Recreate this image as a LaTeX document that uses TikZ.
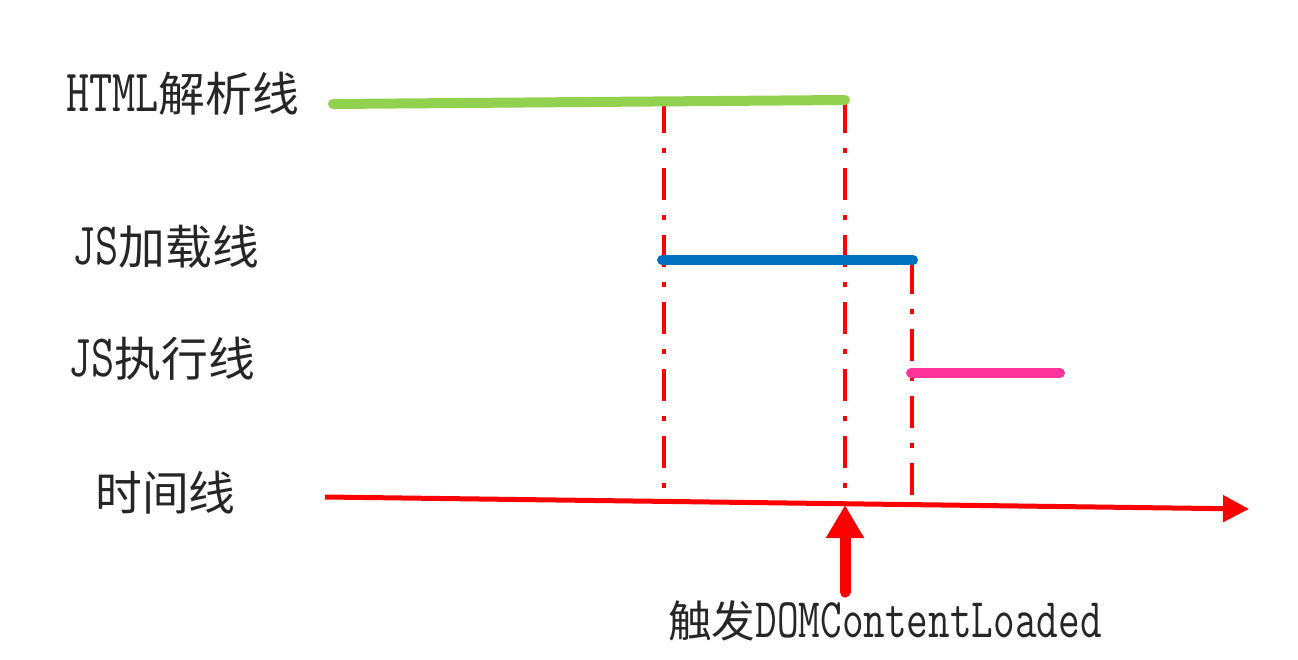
\documentclass[tikz,border=0pt]{standalone}
\usepackage{fontspec}
\newfontfamily\lmono{Latin Modern Mono}[FakeStretch=0.75]
\newfontfamily\cjk{Noto Sans CJK SC}[Scale=0.78]
\usetikzlibrary{arrows.meta}
\definecolor{htmlgreen}{HTML}{92D050}
\definecolor{jsblue}{HTML}{0070C0}
\definecolor{jspink}{HTML}{FF3399}
\definecolor{axisred}{HTML}{FF0000}
\tikzset{
  lab/.style={anchor=base west, inner sep=0pt, text=black!85, font=\fontsize{60}{66}\lmono},
  smalllab/.style={anchor=base west, inner sep=0pt, text=black!85, font=\fontsize{56}{62}\lmono},
  phase/.style={line width=10pt, line cap=round},
  guide/.style={draw=axisred, line width=3.5pt, dash pattern=on 32pt off 15pt on 5pt off 15pt},
}
\begin{document}
\begin{tikzpicture}[x=1pt,y=-1pt]
\useasboundingbox (0,0) rectangle (1298,660);
% labels
\node[lab] (lhtml) at (66,112) {HTML{\cjk 解析线}};
\node[lab] (lload) at (72,265) {JS{\cjk 加载线}};
\node[lab] (lexec) at (68,376) {JS{\cjk 执行线}};
\node[lab] (ltime) at (95,510) {{\cjk 时间线}};
\node[smalllab] (ldom) at (668,637) {{\cjk 触发}DOMContentLoaded};
% coordinates
\coordinate (g1) at (333,104);
\coordinate (g2) at (845,100);
\coordinate (b1) at (662,260);
\coordinate (b2) at (913,260);
\coordinate (p1) at (911,373);
\coordinate (p2) at (1060,373);
\coordinate (t1) at (325,497);
\coordinate (t2) at (1249,509);
\coordinate (v1t) at (664,101);
\coordinate (v1b) at (664,495);
\coordinate (v2t) at (845,101);
\coordinate (v2b) at (845,495);
\coordinate (v3t) at (912,262);
\coordinate (v3b) at (912,495);
\coordinate (ua) at (845,592);
\coordinate (ub) at (845,505);
% guides
\draw[guide] (v1t) -- (v1b);
\draw[guide] (v2t) -- (v2b);
\draw[guide] (v3t) -- (v3b);
% phases
\draw[phase, htmlgreen] (g1) -- (g2);
\draw[phase, jsblue] (b1) -- (b2);
\draw[phase, jspink] (p1) -- (p2);
% time axis
\draw[axisred, line width=5pt, -{Triangle[width=26pt,length=26pt]}] (t1) -- (t2);
% trigger arrow
\draw[axisred, line width=11pt, line cap=round, -{Triangle[width=36pt,length=33pt,line cap=butt]}] (ua) -- (ub);
\end{tikzpicture}
\end{document}
